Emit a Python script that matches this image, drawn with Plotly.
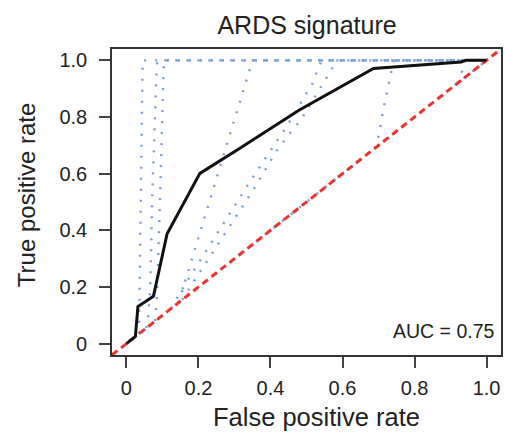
import plotly.graph_objects as go

# ---- data ----
AXIS_RANGE = [-0.04, 1.04]
tick_vals = [0, 0.2, 0.4, 0.6, 0.8, 1.0]
tick_text = ["0", "0.2", "0.4", "0.6", "0.8", "1.0"]

roc_fpr = [0, 0.025, 0.032, 0.075, 0.113, 0.204, 0.314, 0.479, 0.686, 0.929, 0.943, 1.0]
roc_tpr = [0, 0.026, 0.131, 0.167, 0.388, 0.601, 0.689, 0.824, 0.971, 0.994, 1.0, 1.0]

# reference (dotted) curves
ref_A_x = [0.035, 0.036, 0.045, 1.0]
ref_A_y = [0.035, 0.15, 1.0, 1.0]
ref_B_x = [0.055, 0.06, 0.066, 0.072, 0.084, 0.086, 1.0]
ref_B_y = [0.055, 0.09, 0.19, 0.53, 0.97, 1.0, 1.0]
ref_C_x = [0.08, 0.085, 0.094, 0.1, 0.104, 1.0]
ref_C_y = [0.08, 0.17, 0.54, 0.877, 1.0, 1.0]
ref_D_x = [0.145, 0.35, 1.0]
ref_D_y = [0.145, 1.0, 1.0]
ref_E_x = [0.125, 0.158, 0.337, 0.447, 0.516, 0.542, 1.0]
ref_E_y = [0.125, 0.2, 0.56, 0.771, 0.918, 1.0, 1.0]
ref_F_x = [0.155, 0.19, 0.355, 0.415, 0.461, 0.484, 0.571, 0.578, 1.0]
ref_F_y = [0.155, 0.225, 0.548, 0.677, 0.754, 0.789, 0.971, 1.0, 1.0]
ref_G_x = [0.69, 0.697, 0.715, 0.735, 0.742, 1.0]
ref_G_y = [0.69, 0.712, 0.836, 0.959, 1.0, 1.0]
ref_H_x = [0.92, 0.929, 0.94, 1.0]
ref_H_y = [0.92, 0.947, 1.0, 1.0]
ref_diag = [0, 1]

auc_label = "AUC = 0.75"
title_text = "ARDS signature"
x_title = "False positive rate"
y_title = "True positive rate"

FONT = "Liberation Sans, Arial, sans-serif"
BLUE = "rgb(118,158,214)"
RED = "rgb(235,52,48)"

fig = go.Figure()

blue_sets = [(ref_A_x, ref_A_y), (ref_B_x, ref_B_y), (ref_C_x, ref_C_y),
             (ref_D_x, ref_D_y), (ref_E_x, ref_E_y), (ref_F_x, ref_F_y),
             (ref_G_x, ref_G_y), (ref_H_x, ref_H_y), (ref_diag, ref_diag)]
for bx, by in blue_sets:
    fig.add_trace(go.Scatter(x=bx, y=by, mode="lines",
                             line=dict(color=BLUE, width=2.4, dash="2px,9px"),
                             hoverinfo="skip", showlegend=False))

# chance diagonal across whole plotting region
fig.add_trace(go.Scatter(x=AXIS_RANGE, y=AXIS_RANGE, mode="lines",
                         line=dict(color=RED, width=3, dash="7px,4.5px"),
                         hoverinfo="skip", showlegend=False))

fig.add_trace(go.Scatter(x=roc_fpr, y=roc_tpr, mode="lines",
                         line=dict(color="#111111", width=3),
                         showlegend=False))

axis_common = dict(range=AXIS_RANGE, tickvals=tick_vals, ticktext=tick_text,
                   showgrid=False, zeroline=False, showline=True, mirror=True,
                   linecolor="#333333", linewidth=1.6, ticks="outside",
                   ticklen=11, tickwidth=1.5, tickcolor="#444444",
                   tickfont=dict(family=FONT, size=20, color="#222222"))

fig.update_layout(
    width=505, height=434,
    margin=dict(l=112, r=2, t=49, b=79),
    paper_bgcolor="white", plot_bgcolor="white",
    title=dict(text=title_text, x=0.608, xanchor="center", y=1 - 25 / 434,
               yanchor="middle", font=dict(family=FONT, size=25, color="#222222")),
    xaxis=dict(**axis_common, ticklabelstandoff=3),
    yaxis=dict(**axis_common, ticklabelstandoff=8),
    annotations=[
        dict(text=auc_label, xref="paper", yref="paper", x=1, y=0.077,
             xanchor="right", yanchor="middle", xshift=-4, showarrow=False,
             font=dict(family=FONT, size=19.5, color="#222222")),
        dict(text=x_title, xref="paper", yref="paper", x=0.526, y=-0.204,
             xanchor="center", yanchor="middle", showarrow=False,
             font=dict(family=FONT, size=25.5, color="#222222")),
        dict(text=y_title, xref="paper", yref="paper", x=-0.218, y=0.523,
             xanchor="center", yanchor="middle", showarrow=False, textangle=-90,
             font=dict(family=FONT, size=24, color="#222222")),
    ],
)

fig.write_html("out.html",
               config={"displayModeBar": False},
               post_script="document.body.style.margin='0';"
                           "document.body.style.overflow='hidden';")
